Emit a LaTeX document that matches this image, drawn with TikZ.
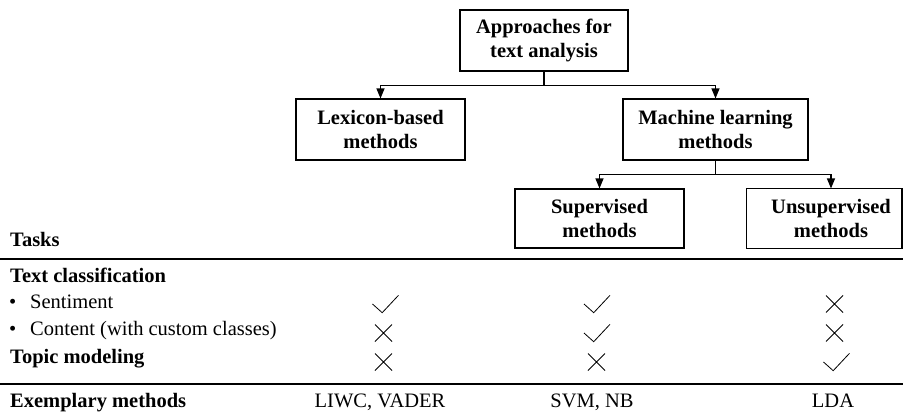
\documentclass[tikz,border=0pt]{standalone}
\usepackage{fontspec}
\setmainfont{Liberation Serif}
\usetikzlibrary{arrows.meta}

\begin{document}
\begin{tikzpicture}[x=1pt, y=-1pt,
		every node/.style={font=\fontsize{20.5}{24.5}\selectfont},
		box/.style={draw, line width=1.1pt, align=center, inner sep=0pt, minimum height=61pt, font=\fontsize{20.5}{24.5}\selectfont\bfseries},
		link/.style={line width=1.1pt, -{Triangle[length=10pt,width=8pt]}},
		rule/.style={line width=1.4pt},
		txt/.style={anchor=base west, inner sep=0pt},
		head/.style={txt, font=\fontsize{20.5}{24.5}\selectfont\bfseries},
		col/.style={anchor=base, inner sep=0pt},
		tickline/.style={line width=0.8pt},
		checkmark/.pic={\draw[tickline] (-13,0) -- (-3.3,8.7) -- (13,-8.7);},
		crossmark/.pic={\draw[tickline] (-8.5,-8.5) -- (8.5,8.5) (-8.5,8.5) -- (8.5,-8.5);}]
	\useasboundingbox (0,0) rectangle (903,413);
	
	% tree of approaches
	\node[box, minimum width=168pt] (top) at (544,40.5) {Approaches for\\text analysis};
	\node[box, minimum width=169pt] (lex) at (380.5,129.5) {Lexicon-based\\methods};
	\node[box, minimum width=185pt] (ml) at (715.5,129.5) {Machine learning\\methods};
	\node[box, minimum width=169pt, minimum height=59pt] (sup) at (599.5,218.5) {Supervised\\methods};
	\node[box, draw=none, minimum width=168pt, minimum height=59pt] (unsup) at (831,218.5) {Unsupervised\\methods};
	\coordinate (cut) at (902,0);
	\draw[line width=1.1pt] (unsup.north west) rectangle (unsup.south -| cut);
	
	\draw[link] (top.south) -- ++(0,14) -| (lex.north);
	\draw[link] (top.south) -- ++(0,14) -| (ml.north);
	\draw[link] (ml.south) -- ++(0,14) -| (sup.north);
	\draw[link] (ml.south) -- ++(0,14) -| (unsup.north);
	
	% table
	\node[head] (tasks) at (10,246) {Tasks};
	\draw[rule] (0,259) -- (903,259);
	\node[head] (textcls) at (10,282) {Text classification};
	\node[txt] (senti) at (9,308) {\makebox[21pt][l]{\textbullet}Sentiment};
	\node[txt] (content) at (9,335) {\makebox[21pt][l]{\textbullet}Content (with custom classes)};
	\node[head] (topic) at (10,363) {Topic modeling};
	\draw[rule] (0,384) -- (903,384);
	\node[head] (exemp) at (10,407) {Exemplary methods};
	\node[col] (liwc) at (380,407) {LIWC, VADER};
	\node[col] (svm) at (592,407) {SVM, NB};
	\node[col] (lda) at (833,407) {LDA};
	
	\pic at (385.5,304) {checkmark};
	\pic at (597,304) {checkmark};
	\pic at (834.5,304) {crossmark};
	\pic at (383.5,333) {crossmark};
	\pic at (597,333) {checkmark};
	\pic at (834.5,333) {crossmark};
	\pic at (383.5,362) {crossmark};
	\pic at (596.5,362) {crossmark};
	\pic at (836.5,362) {checkmark};
\end{tikzpicture}
\end{document}
